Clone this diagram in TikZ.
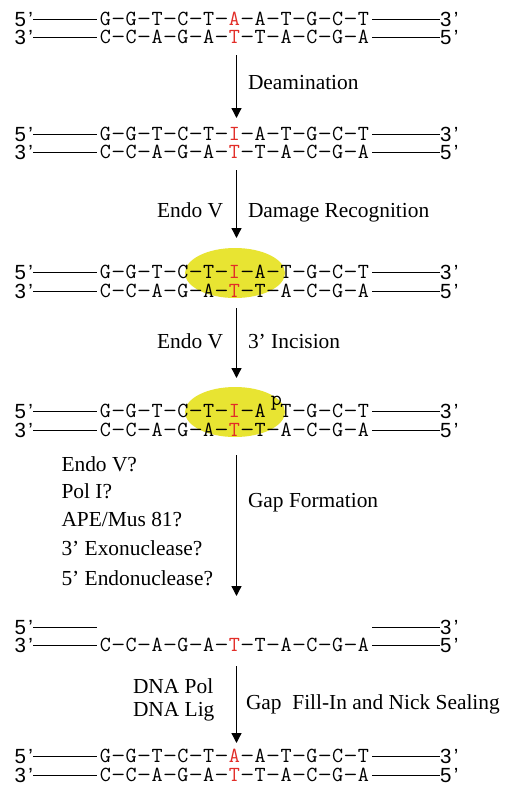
\documentclass[tikz,border=0pt]{standalone}
\usepackage{fontspec}
\usepackage{graphicx}
\setmainfont{Liberation Serif}
\newfontfamily\endfont{Liberation Sans}
\usetikzlibrary{arrows.meta,shapes.geometric}
\definecolor{basered}{RGB}{226,45,40}
\definecolor{siteyellow}{RGB}{232,228,50}
\newcommand\rb[1]{\textcolor{basered}{#1}}
\newcommand\pr[1]{#1\kern2.5pt’}

% bases set on a fixed pitch, one cell per character
\newlength\basepitch
\setlength\basepitch{12.9pt}
\newcommand\seqfont{\ttfamily\addfontfeature{FakeBold=0.4}\fontsize{21.5}{24}\selectfont}
\def\dashcell{\makebox[\basepitch][c]{\scalebox{1.3}[1]{-}}}
\def\seqcell#1{\ifx-#1\dashcell\else\makebox[\basepitch][c]{#1}\fi}
\def\seqstep#1{\ifx\relax#1\else\seqcell{#1}\expandafter\seqstep\fi}
\newcommand\seqrun[1]{\seqstep#1\relax}

% One duplex: #1 id, #2 y of upper strand, #3 upper sequence, #4 lower sequence
\newcommand\duplex[4]{%
  \node[endlbl,anchor=east] (#1tl) at (33,#2) {\pr{5}};
  \node[seqtxt,anchor=west] (#1t)  at (99,#2) {#3};
  \node[endlbl,anchor=west] (#1tr) at (440,#2) {\pr{3}};
  \draw[strand] (#1tl.east) -- ([xshift=-2.5pt]#1t.west);
  \draw[strand] ([xshift=2.5pt]#1t.east) -- (#1tr.west);
  \node[endlbl,anchor=east] (#1bl) at (33,{#2+18.5}) {\pr{3}};
  \node[seqtxt,anchor=west] (#1b)  at (99,{#2+18.5}) {#4};
  \node[endlbl,anchor=west] (#1br) at (440,{#2+18.5}) {\pr{5}};
  \draw[strand] (#1bl.east) -- ([xshift=-2.5pt]#1b.west);
  \draw[strand] ([xshift=2.5pt]#1b.east) -- (#1br.west);
}

\begin{document}
\begin{tikzpicture}[x=1pt,y=-1pt,
  endlbl/.style={font=\endfont\fontsize{20.5}{24}\selectfont, inner sep=0pt, outer sep=0pt, text height=14pt, text depth=0pt},
  seqtxt/.style={font=\seqfont, inner sep=0pt, outer sep=0pt, text height=12pt, text depth=0pt},
  steplbl/.style={font=\fontsize{21.4}{25}\selectfont, inner sep=0pt, outer sep=0pt, text height=14pt, text depth=0pt},
  strand/.style={line width=1pt},
  flow/.style={line width=1.3pt, -{Triangle[length=10pt,width=10pt]}},
  site/.style={ellipse, fill=siteyellow, draw=none, minimum width=100pt, minimum height=50pt, inner sep=0pt}
]
\path[fill=white] (0,0) rectangle (505,790);
\useasboundingbox (0,0) rectangle (505,790);

% highlighted damage site (behind the strands)
\node[site] (hl3) at (235,273) {};
\node[site] (hl4) at (235,412) {};

% the six duplex states
\duplex{ra}{19}{\seqrun{G-G-T-C-T-{\rb{A}}-A-T-G-C-T}}{\seqrun{C-C-A-G-A-{\rb{T}}-T-A-C-G-A}}
\duplex{rb}{134}{\seqrun{G-G-T-C-T-{\rb{I}}-A-T-G-C-T}}{\seqrun{C-C-A-G-A-{\rb{T}}-T-A-C-G-A}}
\duplex{rc}{272.5}{\seqrun{G-G-T-C-T-{\rb{I}}-A-T-G-C-T}}{\seqrun{C-C-A-G-A-{\rb{T}}-T-A-C-G-A}}
\duplex{rd}{411.5}{\seqrun{G-G-T-C-T-{\rb{I}}-A{\hphantom{-}}T-G-C-T}}{\seqrun{C-C-A-G-A-{\rb{T}}-T-A-C-G-A}}
\duplex{re}{627}{\hphantom{\seqrun{G-G-T-C-T-I-A-T-G-C-T}}}{\seqrun{C-C-A-G-A-{\rb{T}}-T-A-C-G-A}}
\duplex{rf}{756.5}{\seqrun{G-G-T-C-T-{\rb{A}}-A-T-G-C-T}}{\seqrun{C-C-A-G-A-{\rb{T}}-T-A-C-G-A}}

% 5' phosphate at the nick
\node[font=\seqfont, inner sep=0pt, anchor=base] (phos) at (276.5,405) {p};

% arrows between the states
\coordinate (s1) at (236.5,55);  \coordinate (e1) at (236.5,118);
\coordinate (s2) at (236.5,170); \coordinate (e2) at (236.5,238);
\coordinate (s3) at (236.5,308); \coordinate (e3) at (236.5,378);
\coordinate (s4) at (236.5,455); \coordinate (e4) at (236.5,596);
\coordinate (s5) at (236.5,666); \coordinate (e5) at (236.5,743);
\draw[flow] (s1) -- (e1);
\draw[flow] (s2) -- (e2);
\draw[flow] (s3) -- (e3);
\draw[flow] (s4) -- (e4);
\draw[flow] (s5) -- (e5);

% step labels
\node[steplbl,anchor=west] (deam)  at (248,82)  {Deamination};
\node[steplbl,anchor=east] (endoa) at (223,210) {Endo V};
\node[steplbl,anchor=west] (recog) at (248,210) {Damage Recognition};
\node[steplbl,anchor=east] (endob) at (223,341) {Endo V};
\node[steplbl,anchor=west] (incis) at (248,341) {3’ Incision};
\node[steplbl,anchor=west] (gapf)  at (248,500) {Gap Formation};
\node[steplbl,anchor=west] (cand1) at (61.5,464) {Endo V?};
\node[steplbl,anchor=west] (cand2) at (61.5,491) {Pol I?};
\node[steplbl,anchor=west] (cand3) at (61.5,519) {APE/Mus 81?};
\node[steplbl,anchor=west] (cand4) at (61.5,548) {3’ Exonuclease?};
\node[steplbl,anchor=west] (cand5) at (61.5,578) {5’ Endonuclease?};
\node[steplbl,anchor=west] (pol)   at (133,686) {DNA Pol};
\node[steplbl,anchor=west] (lig)   at (133,709) {DNA Lig};
\node[steplbl,anchor=west] (fill)  at (246,702) {Gap\ \ Fill-In and Nick Sealing};
\end{tikzpicture}
\end{document}
